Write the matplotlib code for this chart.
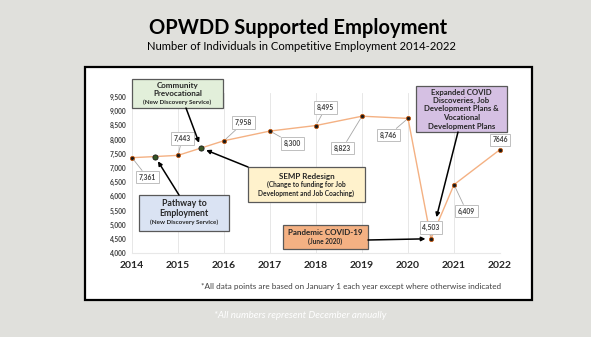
import matplotlib
matplotlib.use("Agg")
import matplotlib.pyplot as plt
from matplotlib.patches import Rectangle

plt.rcParams['font.family'] = ['Lato', 'DejaVu Sans']

# data
years = [2014, 2014.5, 2015, 2015.5, 2016, 2017, 2018, 2019, 2020, 2020.5, 2021, 2022]
counts = [7361, 7400, 7443, 7700, 7958, 8300, 8495, 8823, 8746, 4503, 6409, 7646]
labels = ['7,361', None, '7,443', None, '7,958', '8,300', '8,495', '8,823', '8,746', '4,503', '6,409', '7646']
# offsets of the value boxes (points)
label_off = [(11, -14), None, (3, 12), None, (14, 13), (16, -9), (7, 13), (-14, -23), (-14, -12), (0, 8), (9, -19), (0, 7)]
green_idx = [1, 3]
year_ticks = list(range(2014, 2023))
y_ticks = list(range(4000, 10000, 500))

W, H = 591, 337
fig = plt.figure(figsize=(W / 100, H / 100), dpi=100)
fig.patch.set_facecolor('#e0e0dc')

# white panel
fig.patches.append(Rectangle((85 / W, 1 - 300 / H), 447 / W, 233 / H, transform=fig.transFigure,
                             facecolor='white', edgecolor='black', lw=1.6, zorder=-5))

fig.text(298 / W, 1 - 28 / H, 'OPWDD Supported Employment', ha='center', va='center',
         fontsize=14.5, weight='bold', color='black')
fig.text(301 / W, 1 - 46 / H, 'Number of Individuals in Competitive Employment 2014-2022',
         ha='center', va='center', fontsize=8.1, color='black')
fig.text(300 / W, 1 - 316 / H, '*All numbers represent December annually', ha='center', va='center',
         fontsize=7, style='italic', color='white')
fig.text(351 / W, 1 - 287 / H,
         '*All data points are based on January 1 each year except where otherwise indicated',
         ha='center', va='center', fontsize=5.9, color='#404040')

ax = fig.add_axes([132 / W, 1 - 253 / H, 368 / W, 160 / H])
ax.set_facecolor('none')
ax.set_xlim(2014, 2022)
ax.set_ylim(4000, 9641)
for s in ['top', 'right', 'left']:
    ax.spines[s].set_visible(False)
ax.spines['bottom'].set_color('#e8e8e8')
ax.set_xticks(year_ticks)
ax.set_xticklabels([str(y) for y in year_ticks], fontsize=7.5, weight='bold', color='#262626')
ax.set_yticks(y_ticks)
ax.set_yticklabels(['{:,}'.format(v) for v in y_ticks], fontsize=4.8, weight='bold', color='#404040')
ax.tick_params(length=0)
ax.tick_params(axis='x', pad=6)
ax.tick_params(axis='y', pad=4)
ax.grid(axis='x', color='#e3e3e3', lw=0.6)

ax.plot(years, counts, color='#f4b183', lw=1.0, zorder=2, clip_on=False)
plain = [i for i in range(len(years)) if i not in green_idx]
ax.scatter([years[i] for i in plain], [counts[i] for i in plain], s=9, color='#1a1a1a',
           edgecolor='#c55a11', lw=0.6, zorder=3, clip_on=False)
ax.scatter([years[i] for i in green_idx], [counts[i] for i in green_idx], s=14, color='#375623',
           edgecolor='#1a1a1a', lw=0.6, zorder=3, clip_on=False)

for x, y, lab, off in zip(years, counts, labels, label_off):
    if lab is None:
        continue
    ax.annotate(lab, xy=(x, y), xytext=off, textcoords='offset points', ha='center', va='center',
                fontsize=4.9, weight='bold', color='#404040', annotation_clip=False,
                bbox=dict(boxstyle='square,pad=0.4', fc='white', ec='#bfbfbf', lw=0.7),
                arrowprops=dict(arrowstyle='-', color='#a6a6a6', lw=0.6, shrinkA=0, shrinkB=2))


def px2ax(px, py):
    return ((px - 132) / 368, (253 - py) / 160)


def note(box, lines, fc, target, start, step, shrink=4):
    l, t, r, b = box
    x0, y0 = px2ax(l, b)
    x1, y1 = px2ax(r, t)
    ax.add_patch(Rectangle((x0, y0), x1 - x0, y1 - y0, transform=ax.transAxes, facecolor=fc,
                           edgecolor='#595959', lw=0.9, clip_on=False, zorder=4))
    n = len(lines)
    cy = (t + b) / 2
    for k, (txt, fs) in enumerate(lines):
        yy = cy + (k - (n - 1) / 2) * step
        ax.text(*px2ax((l + r) / 2, yy), txt, transform=ax.transAxes, ha='center', va='center',
                fontsize=fs, weight='bold', color='#262626', zorder=5)
    ax.annotate('', xy=(years[target], counts[target]), xycoords='data',
                xytext=px2ax(*start), textcoords='axes fraction', annotation_clip=False,
                arrowprops=dict(arrowstyle='-|>', color='black', lw=1.1, shrinkA=0, shrinkB=shrink,
                                mutation_scale=6), zorder=4)


note((132, 79, 223, 108), [('Community', 5.8), ('Prevocational', 5.8), ('(New Discovery Service)', 4.5)],
     '#e2efda', 3, (186, 108), 8.3)
note((139, 195, 229, 231), [('Pathway to', 6.3), ('Employment', 6.3), ('(New Discovery Service)', 4.5)],
     '#dae3f3', 1, (179, 195), 9)
note((248, 167, 365, 202), [('SEMP Redesign', 5.8), ('(Change to funding for Job', 4.8),
                            ('Development and Job Coaching)', 4.8)],
     '#fff2cc', 3, (248, 167), 8.5)
note((283, 225, 368, 249), [('Pandemic COVID-19', 5.8), ('(June 2020)', 4.7)],
     '#f4b183', 9, (368, 240), 9)
note((416, 86, 507, 132), [('Expanded COVID', 5.6), ('Discoveries, Job', 5.6), ('Development Plans &', 5.6),
                           ('Vocational', 5.6), ('Development Plans', 5.6)],
     '#d5c0e3', 9, (458, 132), 8.5, shrink=16)

fig.savefig('out.png', dpi=100, facecolor=fig.get_facecolor())
